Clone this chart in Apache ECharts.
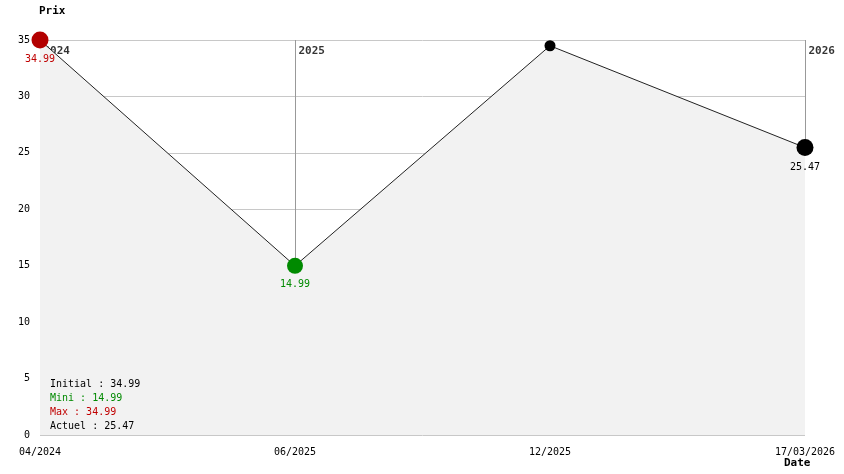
<!DOCTYPE html>
<html>
<head>
<meta charset="utf-8">
<script src="https://cdn.jsdelivr.net/npm/echarts@6/dist/echarts.min.js"></script>
<style>
  html, body { margin: 0; padding: 0; background: #fff; }
  #chart { width: 844px; height: 474px; }
</style>
</head>
<body>
<div id="chart"></div>
<script>
// price history data
var dates = ['04/2024', '06/2025', '12/2025', '17/03/2026'];
var prices = [34.99, 14.99, 34.49, 25.47];
var yearDates = ['04/2024', '06/2025', '17/03/2026'];
var yearNames = ['2024', '2025', '2026'];

var font = 'DejaVu Sans Mono';
var minV = Math.min.apply(null, prices);
var maxV = Math.max.apply(null, prices);
var last = prices.length - 1;

function pointStyle(i) {
    var v = prices[i];
    if (i === 0) return { color: '#b30000', size: 17, label: true, text: '#c00000' };
    if (v === minV) return { color: '#008a00', size: 16, label: true, text: '#008a00' };
    if (i === last) return { color: '#000', size: 17, label: true, text: '#000' };
    return { color: '#000', size: 11, label: false, text: '#000' };
}

var pts = prices.map(function (v, i) {
    var s = pointStyle(i);
    return {
        value: v,
        symbolSize: s.size,
        itemStyle: { color: s.color },
        label: {
            show: s.label,
            position: 'bottom',
            distance: 6,
            color: s.text,
            fontFamily: font,
            fontSize: 10,
            formatter: function (p) { return p.value.toFixed(2); }
        }
    };
});

var yearData = yearDates.map(function (d, i) {
    return { value: [d, 35], name: yearNames[i] };
});

// year separators: from the top of the plot down to the price curve
var yearLines = yearDates.map(function (d) {
    return [{ coord: [d, 35] }, { coord: [d, prices[dates.indexOf(d)]] }];
});

var infoLines = [
    { text: 'Initial : ' + prices[0].toFixed(2), color: '#000' },
    { text: 'Mini : ' + minV.toFixed(2), color: '#008a00' },
    { text: 'Max : ' + maxV.toFixed(2), color: '#c00000' },
    { text: 'Actuel : ' + prices[last].toFixed(2), color: '#000' }
];

var graphics = [
    {
        type: 'text', left: 39, top: 6,
        style: { text: 'Prix', fontFamily: font, fontWeight: 'bold', fontSize: 11, fill: '#000' }
    },
    {
        type: 'text', left: 784, top: 458,
        style: { text: 'Date', fontFamily: font, fontWeight: 'bold', fontSize: 11, fill: '#000' }
    }
];
infoLines.forEach(function (l, i) {
    graphics.push({
        type: 'text', left: 50, top: 379 + i * 14, zlevel: 2,
        style: { text: l.text, fontFamily: font, fontSize: 10, fill: l.color }
    });
});

var chart = echarts.init(document.getElementById('chart'));
chart.setOption({
    animation: false,
    grid: { left: 40, right: 39, top: 40, bottom: 39 },
    xAxis: {
        type: 'category',
        data: dates,
        boundaryGap: false,
        axisLine: { show: false },
        axisTick: { show: false },
        splitLine: { show: false },
        axisLabel: {
            margin: 12,
            color: '#000',
            fontFamily: font,
            fontSize: 10,
            interval: 0
        }
    },
    yAxis: {
        type: 'value',
        min: 0,
        max: 35,
        interval: 5,
        axisLine: { show: false },
        axisTick: { show: false },
        splitLine: { show: true, lineStyle: { color: '#c8c8c8', width: 1 } },
        axisLabel: { margin: 10, color: '#000', fontFamily: font, fontSize: 10 }
    },
    series: [
        {
            type: 'scatter',
            zlevel: 0,
            data: yearData,
            symbolSize: 1,
            itemStyle: { color: 'rgba(0,0,0,0)' },
            label: {
                show: true,
                position: 'right',
                distance: 3,
                offset: [0, 11],
                color: '#000',
                fontFamily: font,
                fontWeight: 'bold',
                fontSize: 11,
                formatter: function (p) { return p.name; }
            },
            markLine: {
                silent: true,
                symbol: 'none',
                label: { show: false },
                lineStyle: { color: '#999', width: 1, type: 'solid' },
                data: yearLines
            }
        },
        {
            type: 'line',
            zlevel: 1,
            data: pts,
            symbol: 'circle',
            lineStyle: { color: '#222', width: 1 },
            areaStyle: { color: '#f2f2f2', opacity: 1 }
        }
    ],
    graphic: graphics
});
</script>
</body>
</html>
